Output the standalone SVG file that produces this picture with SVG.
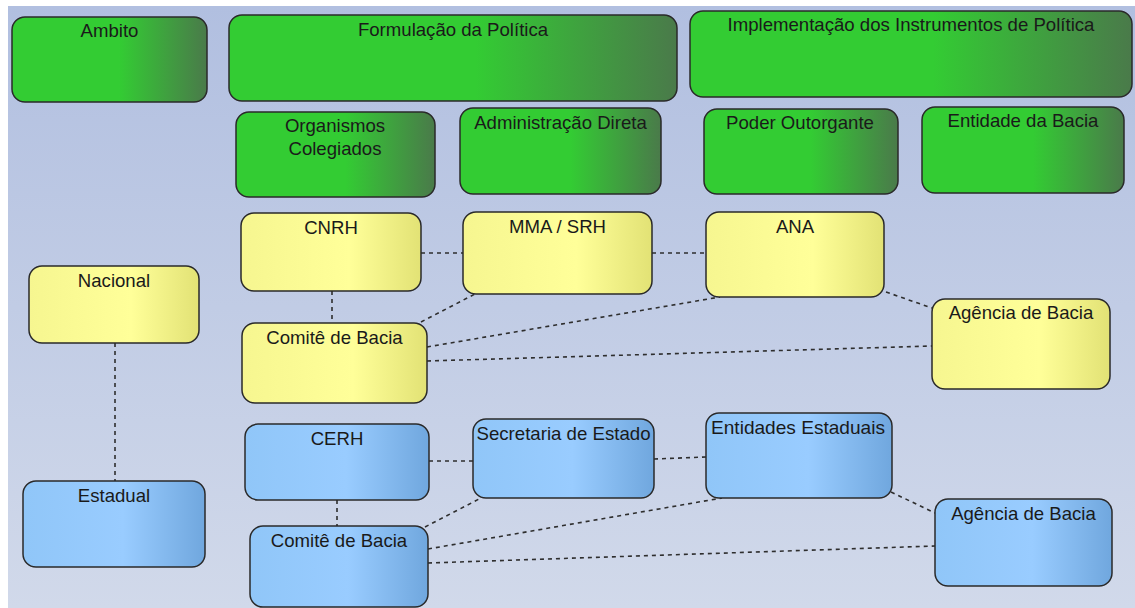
<svg xmlns="http://www.w3.org/2000/svg" width="1135" height="608" viewBox="0 0 1135 608">
<defs>
<linearGradient id="bg" x1="0" y1="0" x2="0" y2="1">
<stop offset="0" stop-color="#b1bfe0"/>
<stop offset="1" stop-color="#d1d9ea"/>
</linearGradient>
<linearGradient id="g" x1="0" y1="0" x2="1" y2="0">
<stop offset="0" stop-color="#33cc33"/>
<stop offset="0.55" stop-color="#33cc33"/>
<stop offset="1" stop-color="#4a7a4a"/>
</linearGradient>
<linearGradient id="y" x1="0" y1="0" x2="1" y2="0">
<stop offset="0" stop-color="#f6f690"/>
<stop offset="0.6" stop-color="#ffff99"/>
<stop offset="1" stop-color="#e2e275"/>
</linearGradient>
<linearGradient id="b" x1="0" y1="0" x2="1" y2="0">
<stop offset="0" stop-color="#90c6f8"/>
<stop offset="0.55" stop-color="#99ccff"/>
<stop offset="1" stop-color="#70a7de"/>
</linearGradient>
</defs>
<style>
.n rect{stroke:#2a2a2a;stroke-width:1.5}
.gn rect{fill:url(#g)}
.yn rect{fill:url(#y)}
.bn rect{fill:url(#b)}
text{font-family:"Liberation Sans",Arial,sans-serif;font-size:18.6px;fill:#1a1a1a;text-anchor:middle}
#connectors line{stroke:#2e2e2e;stroke-width:1.6;stroke-dasharray:4 4;fill:none}
</style>
<rect x="0" y="0" width="1135" height="608" fill="#ffffff"/>
<rect x="8" y="6" width="1127" height="602" fill="url(#bg)"/>

<g id="connectors">
<line x1="421" y1="253" x2="463" y2="253"/>
<line x1="652" y1="253" x2="706" y2="253"/>
<line x1="332" y1="291" x2="332" y2="323"/>
<line x1="421" y1="322" x2="475" y2="294"/>
<line x1="427" y1="347" x2="720" y2="297"/>
<line x1="427" y1="361" x2="932" y2="346"/>
<line x1="886" y1="292" x2="932" y2="308"/>
<line x1="115" y1="343" x2="115" y2="481"/>
<line x1="429" y1="461" x2="473" y2="461"/>
<line x1="654" y1="459" x2="706" y2="457"/>
<line x1="337" y1="500" x2="337" y2="526"/>
<line x1="425" y1="527" x2="481" y2="498"/>
<line x1="428" y1="549" x2="722" y2="498"/>
<line x1="428" y1="563" x2="935" y2="546"/>
<line x1="891" y1="492" x2="935" y2="513"/>
</g>

<g id="ambito" class="n gn"><rect x="12" y="17" width="195" height="85" rx="13"/><text x="109.5" y="37">Ambito</text></g>
<g id="formulacao" class="n gn"><rect x="229" y="15" width="448" height="86" rx="13"/><text x="453" y="36">Formulação da Política</text></g>
<g id="implementacao" class="n gn"><rect x="690" y="11" width="442" height="86" rx="13"/><text x="911" y="31">Implementação dos Instrumentos de Política</text></g>
<g id="organismos" class="n gn"><rect x="236" y="112" width="199" height="85" rx="13"/><text x="335" y="132">Organismos</text><text x="335" y="155">Colegiados</text></g>
<g id="administracao" class="n gn"><rect x="460" y="108" width="201" height="86" rx="13"/><text x="560.5" y="129">Administração Direta</text></g>
<g id="poder" class="n gn"><rect x="704" y="109" width="194" height="85" rx="13"/><text x="800" y="129">Poder Outorgante</text></g>
<g id="entidade" class="n gn"><rect x="922" y="107" width="202" height="86" rx="13"/><text x="1023" y="127">Entidade da Bacia</text></g>

<g id="cnrh" class="n yn"><rect x="241" y="213" width="180" height="78" rx="13"/><text x="331" y="234">CNRH</text></g>
<g id="nacional" class="n yn"><rect x="29" y="266" width="170" height="77" rx="13"/><text x="114" y="287">Nacional</text></g>
<g id="comite-n" class="n yn"><rect x="242" y="323" width="185" height="80" rx="13"/><text x="334.5" y="344">Comitê de Bacia</text></g>
<g id="mma" class="n yn"><rect x="463" y="212" width="189" height="82" rx="13"/><text x="557.5" y="233">MMA / SRH</text></g>
<g id="ana" class="n yn"><rect x="706" y="212" width="178" height="85" rx="13"/><text x="795" y="233">ANA</text></g>
<g id="agencia-n" class="n yn"><rect x="932" y="299" width="178" height="90" rx="13"/><text x="1021" y="319">Agência de Bacia</text></g>

<g id="cerh" class="n bn"><rect x="245" y="424" width="184" height="76" rx="13"/><text x="337" y="445">CERH</text></g>
<g id="estadual" class="n bn"><rect x="23" y="481" width="182" height="86" rx="13"/><text x="114" y="502">Estadual</text></g>
<g id="comite-e" class="n bn"><rect x="250" y="526" width="178" height="81" rx="13"/><text x="339" y="547">Comitê de Bacia</text></g>
<g id="secretaria" class="n bn"><rect x="473" y="419" width="181" height="79" rx="13"/><text x="563.5" y="440" textLength="174" lengthAdjust="spacingAndGlyphs">Secretaria de Estado</text></g>
<g id="entidades" class="n bn"><rect x="706" y="413" width="186" height="85" rx="13"/><text x="798" y="434" textLength="174" lengthAdjust="spacingAndGlyphs">Entidades Estaduais</text></g>
<g id="agencia-e" class="n bn"><rect x="935" y="499" width="177" height="87" rx="13"/><text x="1023.5" y="520">Agência de Bacia</text></g>
</svg>
